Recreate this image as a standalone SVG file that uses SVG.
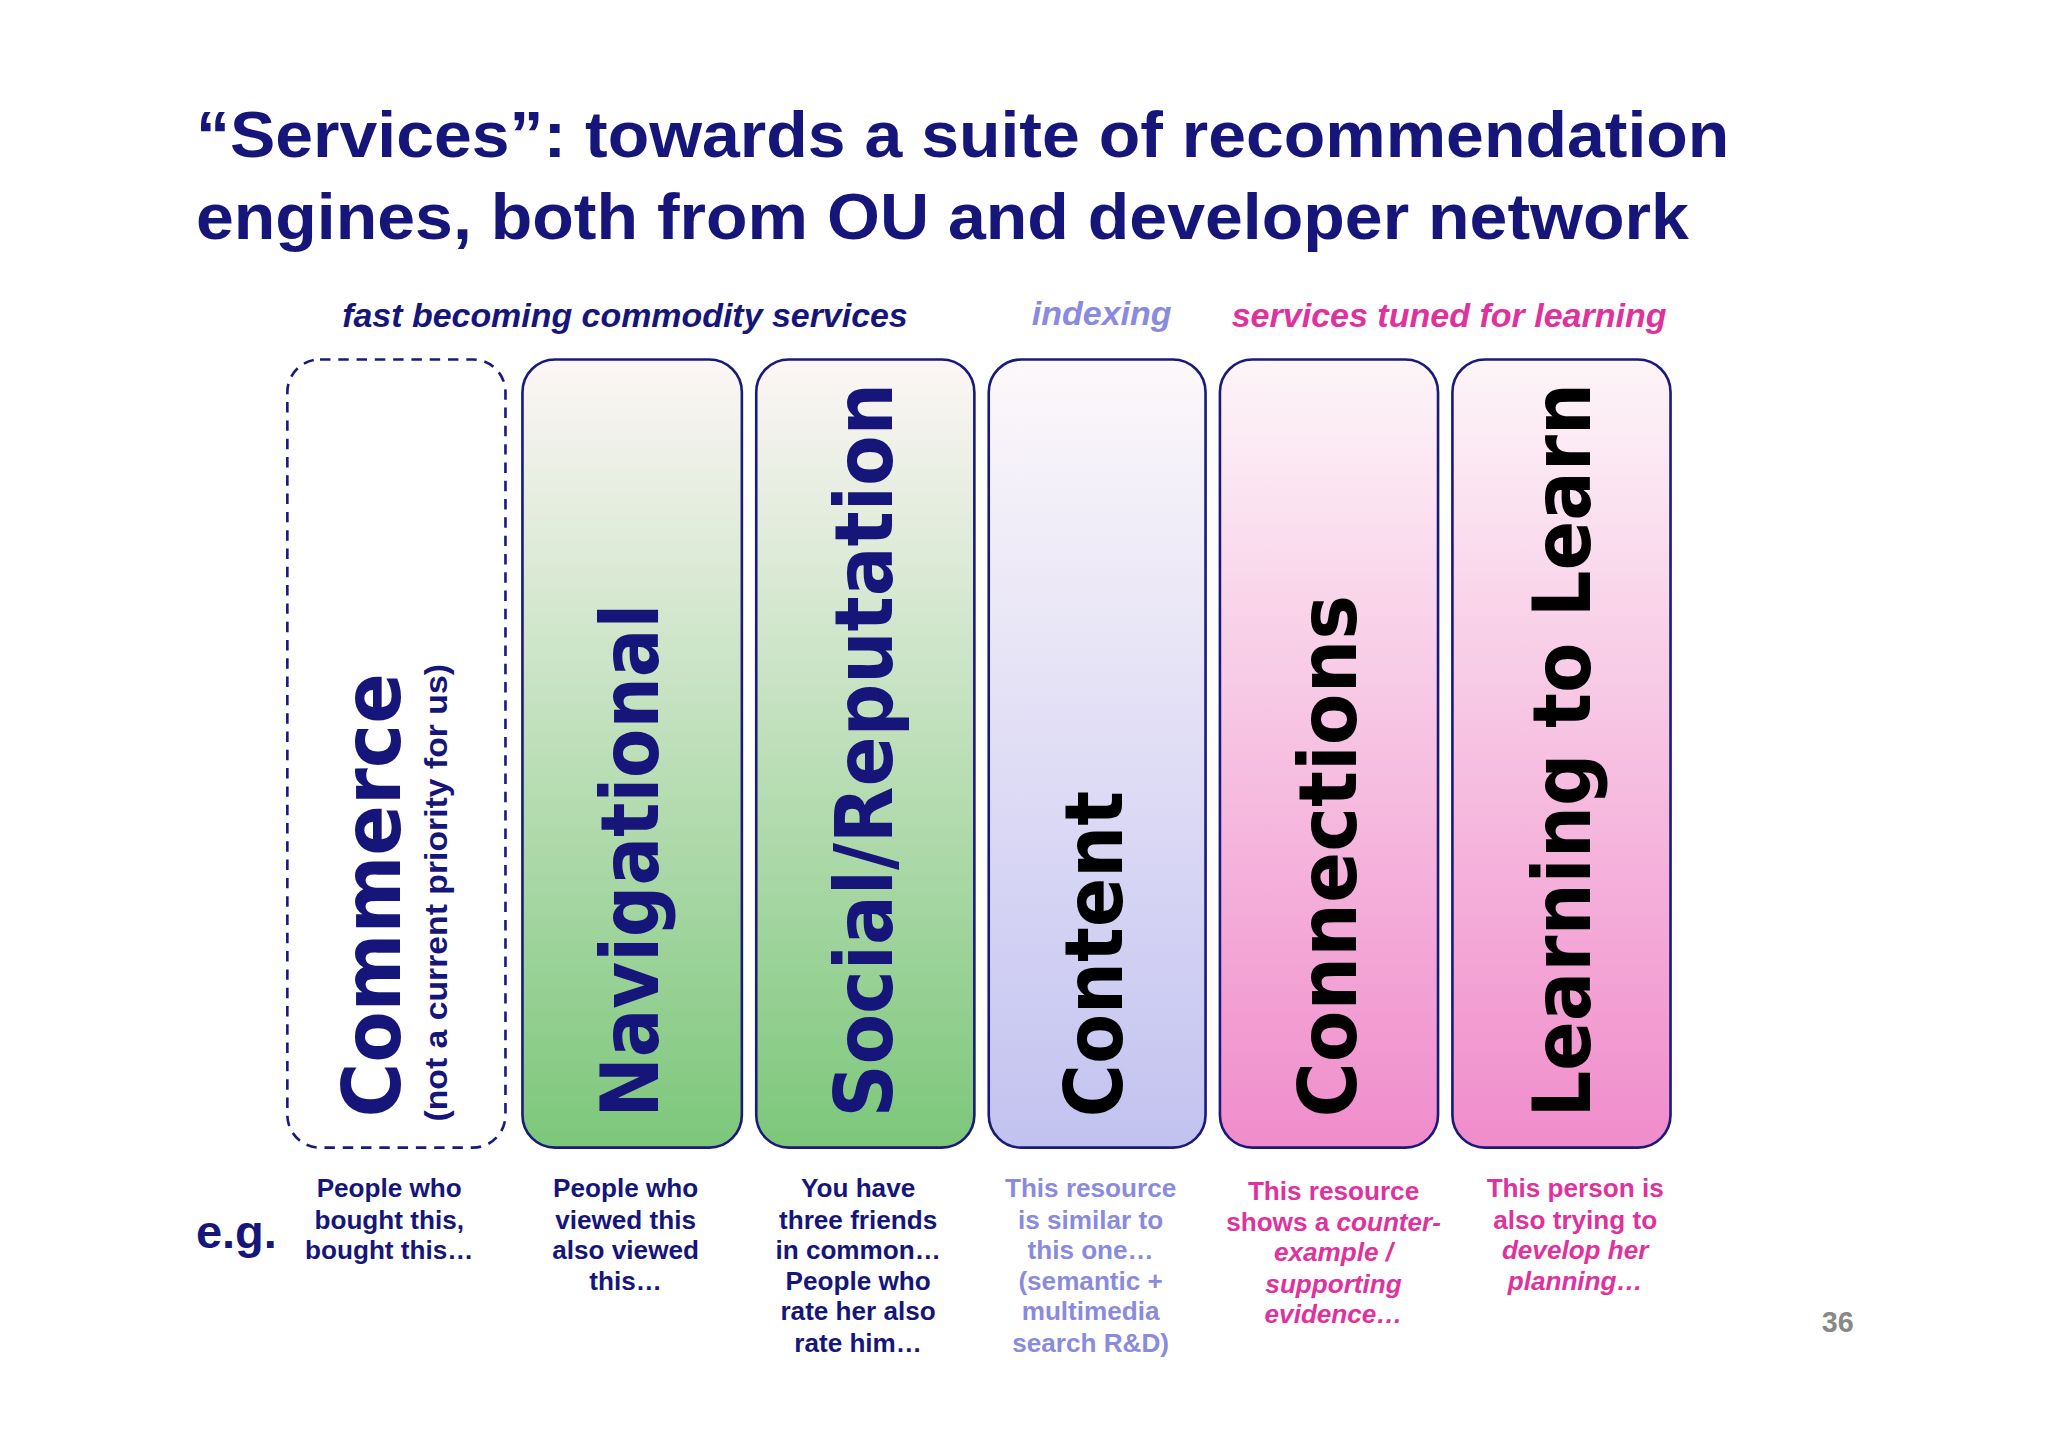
<svg xmlns="http://www.w3.org/2000/svg" width="2048" height="1447" viewBox="0 0 2048 1447">
<defs>
<linearGradient id="gG" x1="0" y1="0" x2="0" y2="1"><stop offset="0" stop-color="#fdf6f6"/><stop offset="1" stop-color="#7cc77a"/></linearGradient>
<linearGradient id="gB" x1="0" y1="0" x2="0" y2="1"><stop offset="0" stop-color="#fdf8fa"/><stop offset="1" stop-color="#c2c2f0"/></linearGradient>
<linearGradient id="gP" x1="0" y1="0" x2="0" y2="1"><stop offset="0" stop-color="#fdf5f8"/><stop offset="1" stop-color="#f08ccb"/></linearGradient>
<style>
.box{stroke:#1a1a7a;stroke-width:2}
.big{font-family:"DejaVu Sans",Verdana,sans-serif;font-weight:bold;font-size:62px}
.t{font-family:"Liberation Sans",Arial,sans-serif;font-weight:bold}
.ex{font-family:"Liberation Sans",Arial,sans-serif;font-weight:bold;font-size:20px;text-anchor:middle}
.nv{fill:#16167a}.lb{fill:#8a8ade}.pk{fill:#e0329c}
</style>
</defs>
<rect width="2048" height="1447" fill="#fff"/>
<g transform="scale(1.30612,1.30715)">
<g id="title" class="t nv" font-size="50">
<text x="150" y="120" textLength="1174" lengthAdjust="spacingAndGlyphs">“Services”: towards a suite of recommendation</text>
<text x="150" y="183" textLength="1143" lengthAdjust="spacingAndGlyphs">engines, both from OU and developer network</text>
</g>
<g id="headers" class="t" font-size="26" font-style="italic">
<text x="262" y="250" class="nv" textLength="433" lengthAdjust="spacingAndGlyphs">fast becoming commodity services</text>
<text x="790" y="249" class="lb" textLength="107" lengthAdjust="spacingAndGlyphs">indexing</text>
<text x="943" y="250" class="pk" textLength="333" lengthAdjust="spacingAndGlyphs">services tuned for learning</text>
</g>
<g id="commerce">
<rect x="220" y="275" width="167" height="603" rx="25" fill="none" stroke="#1a1a7a" stroke-width="2" stroke-dasharray="8,6"/>
<text class="big nv" transform="translate(306,855) rotate(-90)" textLength="340" lengthAdjust="spacingAndGlyphs">Commerce</text>
<text class="t nv" font-size="24" transform="translate(342,858) rotate(-90)" textLength="350" lengthAdjust="spacingAndGlyphs">(not a current priority for us)</text>
</g>
<g id="navigational">
<rect class="box" x="400" y="275" width="168" height="603" rx="25" fill="url(#gG)"/>
<text class="big nv" transform="translate(504,855) rotate(-90)" textLength="393" lengthAdjust="spacingAndGlyphs">Navigational</text>
</g>
<g id="social">
<rect class="box" x="579" y="275" width="167" height="603" rx="25" fill="url(#gG)"/>
<text class="big nv" transform="translate(683,855) rotate(-90)" textLength="562" lengthAdjust="spacingAndGlyphs">Social/Reputation</text>
</g>
<g id="content">
<rect class="box" x="757" y="275" width="166" height="603" rx="25" fill="url(#gB)"/>
<text class="big" fill="#000" transform="translate(859,855) rotate(-90)" textLength="250" lengthAdjust="spacingAndGlyphs">Content</text>
</g>
<g id="connections">
<rect class="box" x="934" y="275" width="167" height="603" rx="25" fill="url(#gP)"/>
<text class="big" fill="#000" transform="translate(1038,855) rotate(-90)" textLength="400" lengthAdjust="spacingAndGlyphs">Connections</text>
</g>
<g id="learning">
<rect class="box" x="1112" y="275" width="167" height="603" rx="25" fill="url(#gP)"/>
<text class="big" fill="#000" transform="translate(1217,855) rotate(-90)" textLength="562" lengthAdjust="spacingAndGlyphs">Learning to Learn</text>
</g>
<g id="examples">
<text x="150" y="955" class="t nv" font-size="36">e.g.</text>
<text class="ex nv"><tspan x="298" y="916">People who</tspan><tspan x="298" y="940">bought this,</tspan><tspan x="298" y="963">bought this…</tspan></text>
<text class="ex nv"><tspan x="479" y="916">People who</tspan><tspan x="479" y="940">viewed this</tspan><tspan x="479" y="963">also viewed</tspan><tspan x="479" y="987">this…</tspan></text>
<text class="ex nv"><tspan x="657" y="916">You have</tspan><tspan x="657" y="940">three friends</tspan><tspan x="657" y="963">in common…</tspan><tspan x="657" y="987">People who</tspan><tspan x="657" y="1010">rate her also</tspan><tspan x="657" y="1034">rate him…</tspan></text>
<text class="ex lb"><tspan x="835" y="916">This resource</tspan><tspan x="835" y="940">is similar to</tspan><tspan x="835" y="963">this one…</tspan><tspan x="835" y="987">(semantic +</tspan><tspan x="835" y="1010">multimedia</tspan><tspan x="835" y="1034">search R&amp;D)</tspan></text>
<text class="ex pk"><tspan x="1021" y="918">This resource</tspan><tspan x="1021" y="942">shows a <tspan font-style="italic">counter-</tspan></tspan><tspan x="1021" y="965" font-style="italic">example /</tspan><tspan x="1021" y="989" font-style="italic">supporting</tspan><tspan x="1021" y="1012" font-style="italic">evidence…</tspan></text>
<text class="ex pk"><tspan x="1206" y="916">This person is</tspan><tspan x="1206" y="940">also trying to</tspan><tspan x="1206" y="963" font-style="italic">develop her</tspan><tspan x="1206" y="987" font-style="italic">planning…</tspan></text>
<text x="1407" y="1019" class="t" font-size="22" fill="#888" text-anchor="middle">36</text>
</g>
</g>
</svg>
